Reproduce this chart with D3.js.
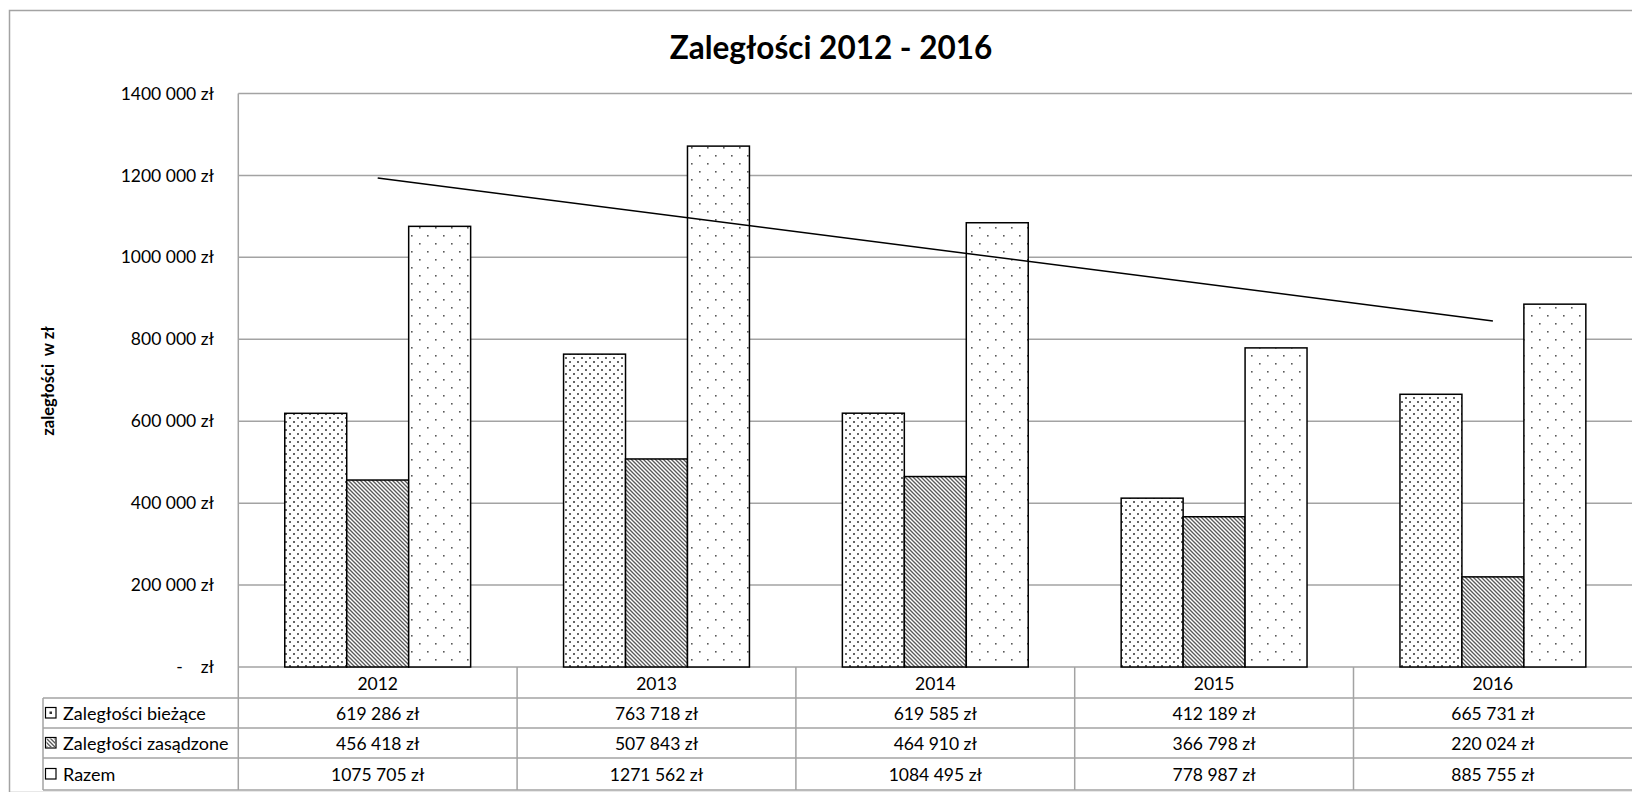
<!DOCTYPE html>
<html>
<head>
<meta charset="utf-8">
<script src="https://cdn.jsdelivr.net/npm/d3@7"></script>
<style>
  html, body { margin: 0; padding: 0; background: #fff; overflow: hidden; }
  svg { display: block; }
  text { font-family: Lato, "Open Sans", sans-serif; fill: #000; }
</style>
</head>
<body>
<svg id="chart" width="1632" height="792"></svg>
<script>
// ---- data ----
const years = ["2012", "2013", "2014", "2015", "2016"];
const seriesNames = ["Zaległości bieżące", "Zaległości zasądzone", "Razem"];
const biezace = [619286, 763718, 619585, 412189, 665731];
const zasadzone = [456418, 507843, 464910, 366798, 220024];
const razem = [1075705, 1271562, 1084495, 778987, 885755];
const tickValues = [0, 200000, 400000, 600000, 800000, 1000000, 1200000, 1400000];
const tickLabels = ["-    zł", "200 000 zł", "400 000 zł", "600 000 zł", "800 000 zł", "1000 000 zł", "1200 000 zł", "1400 000 zł"];
const titleText = "Zaległości 2012 - 2016";
const yTitleText = "zaległości  w zł";

const series = [biezace, zasadzone, razem];
const fills = ["url(#patBiezace)", "url(#patZasadzone)", "url(#patRazem)"];
const nb = s => s.replace(/ /g, "\u00a0");

const svg = d3.select("#chart");
const gridColor = "#a3a3a3";

// ---- patterns ----
const defs = svg.append("defs");
const p1 = defs.append("pattern").attr("id", "patBiezace").attr("patternUnits", "userSpaceOnUse")
  .attr("width", 8).attr("height", 8);
p1.append("rect").attr("width", 8).attr("height", 8).attr("fill", "#fff");
p1.append("rect").attr("x", 1).attr("y", 1).attr("width", 2).attr("height", 2).attr("fill", "#666");
p1.append("rect").attr("x", 5).attr("y", 5).attr("width", 2).attr("height", 2).attr("fill", "#666");

const p2 = defs.append("pattern").attr("id", "patZasadzone").attr("patternUnits", "userSpaceOnUse")
  .attr("width", 4).attr("height", 4);
p2.append("rect").attr("width", 4).attr("height", 4).attr("fill", "#fff");
p2.append("path").attr("d", "M-1,-1 L5,5 M3,-1 L5,1 M-1,3 L1,5")
  .attr("stroke", "#5a5a5a").attr("stroke-width", 1.35);

const p3 = defs.append("pattern").attr("id", "patRazem").attr("patternUnits", "userSpaceOnUse")
  .attr("width", 16).attr("height", 16);
p3.append("rect").attr("width", 16).attr("height", 16).attr("fill", "#fff");
p3.append("rect").attr("x", 3).attr("y", 3).attr("width", 1.6).attr("height", 1.6).attr("fill", "#5a5a5a");
p3.append("rect").attr("x", 11).attr("y", 11).attr("width", 1.6).attr("height", 1.6).attr("fill", "#5a5a5a");

// ---- layout ----
const plotLeft = 238.3, plotTop = 93.5, plotBottom = 667;
const bandW = 278.8;
const plotRight = plotLeft + bandW * years.length;
const tableRows = [698, 728, 758, 790];
const legendLeft = 43;

const x = d3.scaleBand().domain(years).range([plotLeft, plotRight]).paddingInner(0).paddingOuter(0);
const barW = bandW / (3 + 1.5);
const y = d3.scaleLinear().domain([0, 1400000]).range([plotBottom, plotTop]);

// outer border
svg.append("rect").attr("x", 9.5).attr("y", 10.5).attr("width", 1700).attr("height", 782)
  .attr("fill", "none").attr("stroke", gridColor).attr("stroke-width", 1.5);

// gridlines
svg.append("g").selectAll("line").data(tickValues).join("line")
  .attr("x1", plotLeft).attr("x2", 1640)
  .attr("y1", d => y(d)).attr("y2", d => y(d))
  .attr("stroke", gridColor).attr("stroke-width", 1.5);

// y tick labels
svg.append("g").selectAll("text").data(tickValues).join("text")
  .attr("x", 214).attr("y", d => y(d)).attr("dy", "0.35em")
  .attr("text-anchor", "end").attr("font-size", 17.5)
  .text((d, i) => nb(tickLabels[i]));

// y title
svg.append("text")
  .attr("transform", `translate(48,381) rotate(-90)`)
  .attr("dy", "0.35em")
  .attr("text-anchor", "middle").attr("font-size", 16.5).attr("font-weight", "bold")
  .text(nb(yTitleText));

// title
svg.append("text").attr("x", 831).attr("y", 59).attr("text-anchor", "middle")
  .attr("font-size", 31.5).attr("font-weight", "bold").text(titleText);

// bars
const barsG = svg.append("g");
series.forEach((vals, si) => {
  barsG.append("g").selectAll("rect").data(vals).join("rect")
    .attr("x", (d, i) => x(years[i]) + barW * 0.75 + si * barW)
    .attr("width", barW)
    .attr("y", d => y(d))
    .attr("height", d => plotBottom - y(d))
    .attr("fill", fills[si])
    .attr("stroke", "#000").attr("stroke-width", 1.5);
});

// linear trendline on Razem (least squares, as the spreadsheet trendline)
const n = razem.length;
const xs = d3.range(1, n + 1);
const mx = d3.mean(xs), my = d3.mean(razem);
const slope = d3.sum(xs.map((xi, i) => (xi - mx) * (razem[i] - my))) / d3.sum(xs.map(xi => (xi - mx) ** 2));
const icpt = my - slope * mx;
const trend = [1, n].map(xi => [x(years[xi - 1]) + bandW / 2, y(icpt + slope * xi)]);
svg.append("path").attr("d", d3.line()(trend)).attr("fill", "none")
  .attr("stroke", "#000").attr("stroke-width", 1.5);

// ---- data table ----
const tg = svg.append("g");
const vLines = d3.range(0, years.length).map(i => plotLeft + i * bandW);
tg.selectAll("line.v").data(vLines).join("line").attr("class", "v")
  .attr("x1", d => d).attr("x2", d => d)
  .attr("y1", (d, i) => i === 0 ? plotTop : plotBottom).attr("y2", tableRows[3])
  .attr("stroke", gridColor).attr("stroke-width", 1.5);
tg.append("line").attr("x1", legendLeft).attr("x2", legendLeft).attr("y1", tableRows[0]).attr("y2", tableRows[3])
  .attr("stroke", gridColor).attr("stroke-width", 1.5);
tableRows.forEach(ry => {
  tg.append("line").attr("x1", legendLeft).attr("x2", 1640).attr("y1", ry).attr("y2", ry)
    .attr("stroke", gridColor).attr("stroke-width", 1.5);
});

// category labels
tg.selectAll("text.cat").data(years).join("text").attr("class", "cat")
  .attr("x", d => x(d) + bandW / 2).attr("y", (plotBottom + tableRows[0]) / 2 + 1).attr("dy", "0.35em")
  .attr("text-anchor", "middle").attr("font-size", 17.5).text(d => d);

const fmt = v => {
  const th = Math.floor(v / 1000), rest = v % 1000;
  return th + " " + String(rest).padStart(3, "0") + " zł";
};

series.forEach((vals, si) => {
  const cy = (tableRows[si] + tableRows[si + 1]) / 2;
  tg.append("g").selectAll("text").data(vals).join("text")
    .attr("x", (d, i) => x(years[i]) + bandW / 2).attr("y", cy + 1).attr("dy", "0.35em")
    .attr("text-anchor", "middle").attr("font-size", 17.5).text(d => nb(fmt(d)));
  // legend key
  const kx = 45.5, ky = cy - 5.5;
  tg.append("rect").attr("x", kx).attr("y", ky).attr("width", 10.5).attr("height", 10.5)
    .attr("fill", "#fff").attr("stroke", "#000").attr("stroke-width", 1.2);
  if (si === 0) {
    tg.append("rect").attr("x", kx + 4).attr("y", ky + 4).attr("width", 2.5).attr("height", 2.5).attr("fill", "#333");
  } else if (si === 1) {
    tg.append("rect").attr("x", kx + 1).attr("y", ky + 1).attr("width", 8.5).attr("height", 8.5).attr("fill", "url(#patZasadzone)");
  }
  tg.append("text").attr("x", 63).attr("y", cy + 1).attr("dy", "0.35em")
    .attr("font-size", 18).text(seriesNames[si]);
});
</script>
</body>
</html>
